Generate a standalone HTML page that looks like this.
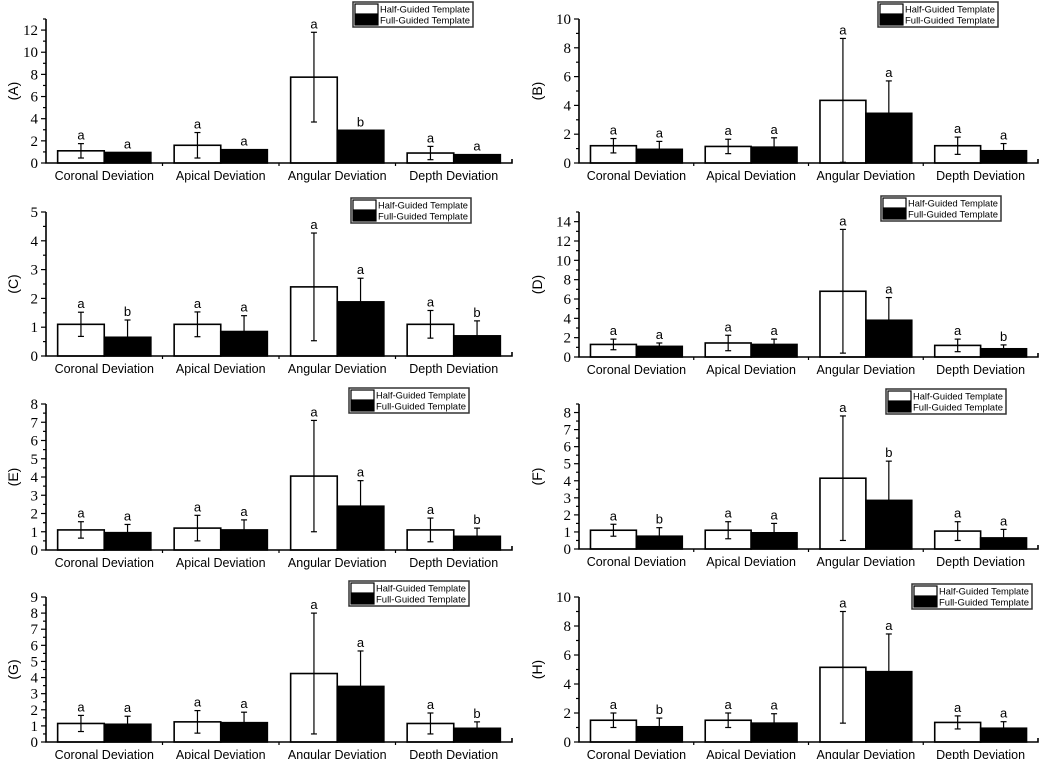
<!DOCTYPE html>
<html><head><meta charset="utf-8">
<style>
html,body{margin:0;padding:0;background:#fff;}
svg{display:block;}
</style></head>
<body>
<svg id="fig" width="1052" height="759" viewBox="0 0 1052 759"></svg>
<script>
const categories = ["Coronal Deviation","Apical Deviation","Angular Deviation","Depth Deviation"];
const panelLabels = ["(A)","(B)","(C)","(D)","(E)","(F)","(G)","(H)"];
const halfMeans = [[1.1,1.6,7.75,0.9],[1.2,1.15,4.35,1.2],[1.1,1.1,2.4,1.1],[1.3,1.45,6.8,1.2],[1.1,1.2,4.05,1.1],[1.1,1.1,4.15,1.05],[1.15,1.25,4.25,1.15],[1.5,1.5,5.15,1.35]];
const halfErr = [[0.65,1.15,4.05,0.6],[0.5,0.5,4.3,0.6],[0.42,0.43,1.87,0.48],[0.55,0.8,6.4,0.65],[0.45,0.7,3.05,0.65],[0.35,0.5,3.65,0.55],[0.5,0.7,3.75,0.65],[0.5,0.5,3.85,0.45]];
const fullMeans = [[0.95,1.2,2.95,0.75],[0.95,1.1,3.45,0.85],[0.65,0.85,1.88,0.7],[1.1,1.3,3.8,0.85],[0.95,1.1,2.4,0.75],[0.75,0.95,2.85,0.65],[1.1,1.2,3.45,0.85],[1.05,1.3,4.85,0.95]];
const fullErr = [[0,0,0,0],[0.55,0.65,2.25,0.5],[0.6,0.55,0.82,0.52],[0.35,0.55,2.35,0.4],[0.45,0.55,1.4,0.45],[0.5,0.55,2.3,0.5],[0.5,0.65,2.2,0.4],[0.6,0.65,2.6,0.45]];
const halfLetters = [["a","a","a","a"],["a","a","a","a"],["a","a","a","a"],["a","a","a","a"],["a","a","a","a"],["a","a","a","a"],["a","a","a","a"],["a","a","a","a"]];
const fullLetters = [["a","a","b","a"],["a","a","a","a"],["b","a","a","b"],["a","a","a","b"],["a","a","a","b"],["b","a","b","a"],["a","a","a","b"],["b","a","a","a"]];
const yMax = [13,10,5,15,8,8.5,9,10];
const yStep = [2,2,1,2,1,1,1,2];
const legendNames = ["Half-Guided Template","Full-Guided Template"];

const layout = [
 {x0:46,x1:512,yb:163,yt:19,lx:353,ly:2,lab:13},
 {x0:579,x1:1038,yb:163,yt:19,lx:878,ly:2,lab:537},
 {x0:46,x1:512,yb:356,yt:212,lx:351,ly:198,lab:13},
 {x0:579,x1:1038,yb:357,yt:212,lx:881,ly:196,lab:537},
 {x0:46,x1:512,yb:550,yt:404,lx:349,ly:388,lab:13},
 {x0:579,x1:1038,yb:549,yt:404,lx:886,ly:389,lab:537},
 {x0:46,x1:512,yb:742,yt:597,lx:349,ly:581,lab:13},
 {x0:579,x1:1038,yb:742,yt:597,lx:912,ly:584,lab:537}
];
const SANS='"Liberation Sans", Arial, sans-serif';
const SERIF='"Liberation Serif", "Times New Roman", serif';
const NS="http://www.w3.org/2000/svg";
const svg=document.getElementById('fig');
function mk(tag,attrs,parent,text){const e=document.createElementNS(NS,tag);for(const k in attrs)e.setAttribute(k,attrs[k]);if(text!==undefined)e.textContent=text;(parent||svg).appendChild(e);return e;}

for(let p=0;p<8;p++){
  const L=layout[p];
  const g=mk('g',{});
  
  
  const y=v=>L.yb-(v/yMax[p])*(L.yb-L.yt);
  const cw=(L.x1-L.x0)/categories.length;
  const bw=cw*0.4;
  const xc=i=>L.x0+cw*(i+0.5);
  for(let i=0;i<categories.length;i++){
    const series=[[halfMeans,halfErr,halfLetters,'#fff',-1],[fullMeans,fullErr,fullLetters,'#000',0]];
    series.forEach((s,si)=>{
      const m=s[0][p][i], e=s[1][p][i];
      const bx=xc(i)+s[4]*bw;
      const r=mk('rect',{x:bx,y:y(m),width:bw,height:L.yb-y(m),fill:s[3],stroke:'#000','stroke-width':1.6},g);
      
      
      const cx=bx+bw/2;
      let topY=y(m);
      if(e>0){
        const eg=mk('g',{stroke:'#000','stroke-width':1.2},g);
        
        
        mk('line',{x1:cx,x2:cx,y1:y(m+e),y2:y(Math.max(0,m-e))},eg);
        mk('line',{x1:cx-3,x2:cx+3,y1:y(m+e),y2:y(m+e)},eg);
        mk('line',{x1:cx-3,x2:cx+3,y1:y(Math.max(0,m-e)),y2:y(Math.max(0,m-e))},eg);
        topY=y(m+e);
      }
      const t=mk('text',{x:cx,y:topY-4,'text-anchor':'middle','font-family':SANS,'font-size':13},g,s[2][p][i]);
      
      
    });
    const c=mk('text',{x:xc(i),y:L.yb+17,'text-anchor':'middle','font-family':SANS,'font-size':12.5},g,categories[i]);
    
    
    if(i>0){mk('line',{x1:L.x0+cw*i,x2:L.x0+cw*i,y1:L.yb,y2:L.yb+3,stroke:'#000','stroke-width':1.2},g);}
  }
  const ax=mk('path',{d:`M${L.x0},${L.yt}V${L.yb}H${L.x1}V${L.yb-4}`,fill:'none',stroke:'#000','stroke-width':1.6},g);
  
  
  for(let v=0;v<=yMax[p]+1e-9;v+=yStep[p]/2){
    const major=Math.abs(v/yStep[p]-Math.round(v/yStep[p]))<1e-6;
    mk('line',{x1:L.x0,x2:L.x0-(major?5:3),y1:y(v),y2:y(v),stroke:'#000','stroke-width':1.2},g);
    if(major){
      const t=mk('text',{x:L.x0-8,y:y(v)+5,'text-anchor':'end','font-family':SERIF,'font-size':15},g,String(Math.round(v)));
      
      
    }
  }
  const ym=(L.yb+L.yt)/2;
  const lab=mk('text',{x:L.lab,y:ym,'text-anchor':'middle','font-family':SANS,'font-size':14,transform:`rotate(-90 ${L.lab} ${ym}) translate(0 5)`},g,panelLabels[p]);
  
  
  const lg=mk('g',{},g);
  
  
  mk('rect',{x:L.lx,y:L.ly,width:120,height:25,fill:'#fff',stroke:'#333','stroke-width':1.5},lg);
  legendNames.forEach((n,k)=>{
    mk('rect',{x:L.lx+2,y:L.ly+2+k*11,width:23,height:10,fill:k?'#000':'#fff',stroke:'#000','stroke-width':1.2},lg);
    const t=mk('text',{x:L.lx+27,y:L.ly+10.5+k*11,'font-family':SANS,'font-size':9.5,textLength:90,lengthAdjust:'spacingAndGlyphs'},lg,n);
    
    
  });
}
</script>
</body></html>
